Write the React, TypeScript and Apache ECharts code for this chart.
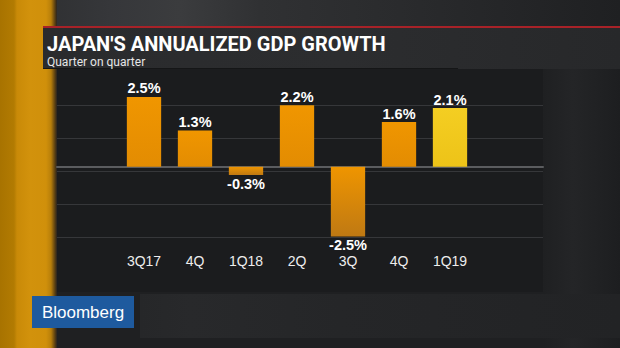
import React, { useEffect, useRef } from "react";
import * as echarts from "echarts";

const categories = ["3Q17", "4Q", "1Q18", "2Q", "3Q", "4Q", "1Q19"];
const growth = [2.5, 1.3, -0.3, 2.2, -2.5, 1.6, 2.1];
const titleText = "JAPAN'S ANNUALIZED GDP GROWTH";
const subtitleText = "Quarter on quarter";
const brandText = "Bloomberg";

const abs = (l: number, t: number, w: number, h: number, bg: string): React.CSSProperties => ({
  position: "absolute",
  left: l,
  top: t,
  width: w,
  height: h,
  background: bg,
});

export default function App() {
  const ref = useRef<HTMLDivElement>(null);

  useEffect(() => {
    if (!ref.current) return;
    const chart = echarts.init(ref.current, undefined, { renderer: "svg" });
    const last = growth.length - 1;

    const barColor = (i: number, v: number) => {
      if (i === last) {
        return new echarts.graphic.LinearGradient(0, 0, 0, 1, [
          { offset: 0, color: "#F4CE22" },
          { offset: 1, color: "#EDC318" },
        ]);
      }
      if (v < 0) {
        return new echarts.graphic.LinearGradient(0, 0, 0, 1, [
          { offset: 0, color: "#EF9500" },
          { offset: 1, color: "#BF7913" },
        ]);
      }
      return new echarts.graphic.LinearGradient(0, 0, 0, 1, [
        { offset: 0, color: "#F09600" },
        { offset: 1, color: "#E38C02" },
      ]);
    };

    const option: any = {
      animation: false,
      backgroundColor: "transparent",
      grid: [
        { left: 118.5, width: 357, top: 83, height: 167.4 },
        { left: 57, width: 486, top: 105, height: 132.7 },
        { left: 57, width: 486, top: 83, height: 167.4 },
      ],
      xAxis: [
        {
          type: "category",
          gridIndex: 0,
          data: categories,
          position: "bottom",
          axisLine: { show: false, onZero: false },
          axisTick: { show: false },
          axisLabel: {
            color: "#EDEDED",
            fontFamily: "Liberation Sans, Arial, sans-serif",
            fontSize: 14,
            margin: 3.5,
            interval: 0,
          },
          splitLine: { show: false },
        },
        {
          type: "value",
          gridIndex: 1,
          min: 0,
          max: 1,
          show: false,
        },
        {
          type: "value",
          gridIndex: 2,
          min: 0,
          max: 1,
          axisLine: { show: true, onZero: true, lineStyle: { color: "#5B5C5F", width: 2 } },
          axisTick: { show: false },
          axisLabel: { show: false },
          splitLine: { show: false },
        },
      ],
      yAxis: [
        {
          type: "value",
          gridIndex: 0,
          min: -3,
          max: 3,
          show: false,
        },
        {
          type: "value",
          gridIndex: 1,
          min: 0,
          max: 4,
          interval: 1,
          axisLine: { show: false },
          axisTick: { show: false },
          axisLabel: { show: false },
          splitLine: { show: true, lineStyle: { color: "#36373A", width: 1 } },
        },
        {
          type: "value",
          gridIndex: 2,
          min: -3,
          max: 3,
          show: false,
        },
      ],
      graphic: [
        {
          type: "text",
          style: {
            x: 47,
            y: 43.5,
            text: titleText,
            fill: "#FFFFFF",
            font: "bold 20px Roboto, Arial, sans-serif",
            verticalAlign: "middle",
            align: "left",
          },
        },
        {
          type: "text",
          style: {
            x: 47,
            y: 61.5,
            text: subtitleText,
            fill: "#E6E6E6",
            font: "12px Roboto, Arial, sans-serif",
            verticalAlign: "middle",
            align: "left",
          },
        },
        {
          type: "rect",
          shape: { x: 32, y: 296, width: 102, height: 32 },
          style: { fill: "#1E5A9E" },
        },
        {
          type: "text",
          style: {
            x: 83,
            y: 312.5,
            text: brandText,
            fill: "#FFFFFF",
            font: "17px Liberation Sans, Arial, sans-serif",
            verticalAlign: "middle",
            align: "center",
          },
        },
      ],
      series: [
        {
          type: "bar",
          xAxisIndex: 0,
          yAxisIndex: 0,
          barWidth: 34.3,
          data: growth.map((v, i) => ({
            value: v,
            itemStyle: { color: barColor(i, v) },
            label: { position: v < 0 ? "bottom" : "top" },
          })),
          label: {
            show: true,
            distance: 1,
            color: "#FFFFFF",
            fontFamily: "Liberation Sans, Arial, sans-serif",
            fontWeight: "bold",
            fontSize: 14.5,
            formatter: (p: any) => `${p.value.toFixed(1)}%`,
          },
        },
      ],
    };

    chart.setOption(option);
    return () => chart.dispose();
  }, []);

  return (
    <div style={{ position: "fixed", left: 0, top: 0, width: 620, height: 348, background: "#1F2022", overflow: "hidden" }}>
      <div style={abs(0, 0, 620, 27, "linear-gradient(to right, #2b2c2e 0px, #36373a 110px, #3b3c3e 180px, #303133 260px, #2a2b2d 400px, #1f2022 620px)")} />
      <div style={abs(57, 69, 486, 223, "#1B1C1E")} />
      <div style={abs(543, 27, 77, 321, "linear-gradient(to right, #1f2022 0px, #242527 30px, #1d1e20 77px)")} />
      <div style={abs(57, 292, 486, 56, "#1F2022")} />
      <div style={abs(140, 294, 480, 44, "linear-gradient(to right, #262729 0px, #28292b 50px, #252628 200px, #222325 480px)")} />
      <div style={abs(0, 0, 57, 348, "linear-gradient(to right, #A87300 0px, #B27B02 14px, #C98A08 17px, #D2920C 30px, #D0900B 46px, #B87F0A 51px, #5A3F12 55px, #2A2420 57px)")} />
      <div style={abs(43, 26, 577, 2, "#A82228")} />
      <div style={abs(43, 28, 577, 41, "linear-gradient(to right, #2A2B2D 0px, #2C2D2F 300px, #27282A 577px)")} />
      <div style={abs(43, 68, 415, 1, "#151617")} />
      <div ref={ref} style={{ position: "absolute", left: 0, top: 0, width: 620, height: 348 }} />
    </div>
  );
}
